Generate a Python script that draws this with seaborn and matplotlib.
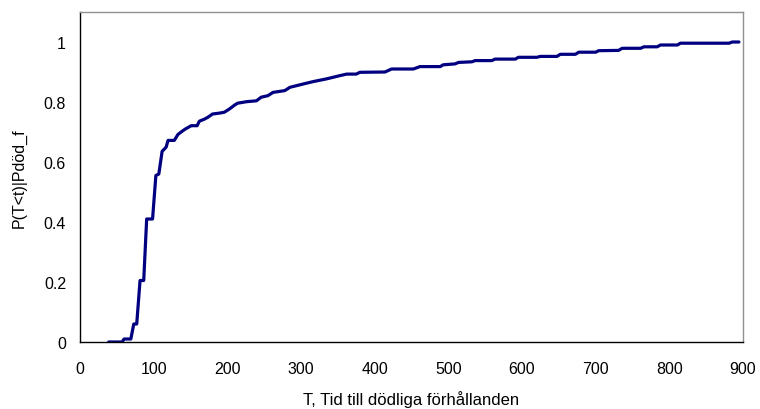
import matplotlib
matplotlib.use("Agg")
import matplotlib.pyplot as plt
import seaborn as sns
import pandas as pd
from matplotlib.ticker import FuncFormatter

# time to lethal conditions (x) and cumulative probability (y)
tid = [39, 57, 60, 69, 73, 77, 81.5, 86.5, 90.5, 98.5, 103, 107, 111.5, 114.5, 117, 119.5,
       128, 133, 139.5, 143, 151, 159, 162, 169, 173.5, 180, 189.5, 196, 203, 210, 214, 226,
       239.5, 246, 255, 262, 278, 285, 303, 316.5, 334.5, 353, 362, 375, 380, 414, 423, 452.5,
       461.5, 489, 493, 509, 514, 532, 536.5, 559, 563.5, 591, 595, 620, 625, 647.5, 652, 672.5,
       677, 700, 704, 731, 736, 761, 765.5, 783.5, 788, 811, 815, 881, 885.5, 894.5]
prob = [0, 0, 0.01, 0.01, 0.06, 0.06, 0.205, 0.205, 0.41, 0.41, 0.555, 0.56, 0.636, 0.643, 0.65, 0.672,
        0.672, 0.692, 0.704, 0.71, 0.721, 0.721, 0.736, 0.743, 0.749, 0.76, 0.763, 0.766, 0.777, 0.79, 0.796, 0.801,
        0.804, 0.816, 0.821, 0.832, 0.838, 0.849, 0.86, 0.868, 0.877, 0.888, 0.893, 0.893, 0.899, 0.9, 0.91, 0.91,
        0.918, 0.918, 0.924, 0.927, 0.932, 0.934, 0.938, 0.938, 0.943, 0.943, 0.949, 0.949, 0.952, 0.952, 0.959, 0.959,
        0.966, 0.966, 0.971, 0.972, 0.979, 0.979, 0.984, 0.984, 0.99, 0.99, 0.996, 0.996, 1.0, 1.0]

x_ticks = [0, 100, 200, 300, 400, 500, 600, 700, 800, 900]
y_ticks = [0, 0.2, 0.4, 0.6, 0.8, 1]

sns.set_style("white")
plt.rcParams["font.family"] = ["Liberation Sans", "DejaVu Sans"]

df = pd.DataFrame({"t": tid, "p": prob})

fig = plt.figure(figsize=(7.6, 4.1), dpi=100)
ax = fig.add_axes([80 / 760, 1 - 343 / 410, 663 / 760, 330 / 410])

sns.lineplot(data=df, x="t", y="p", ax=ax, sort=False, estimator=None,
             color="#000080", linewidth=2.3)

ax.set_xlim(0, 900)
ax.set_ylim(0, 1.1)
ax.set_xticks(x_ticks)
ax.set_yticks(y_ticks)
ax.yaxis.set_major_formatter(FuncFormatter(lambda v, pos: "%g" % v))

# excel look: black left/bottom axes, grey plot area border
for side in ["left", "bottom"]:
    ax.spines[side].set_color("black")
    ax.spines[side].set_linewidth(1.0)
for side in ["top", "right"]:
    ax.spines[side].set_color("#909090")
    ax.spines[side].set_linewidth(1.0)

ax.tick_params(axis="both", direction="out", length=5, width=1, color="black",
               labelsize=11.5, labelcolor="black", pad=5)
ax.tick_params(axis="x", pad=9)

ax.set_xlabel("T, Tid till dödliga förhållanden", fontsize=12, color="black", labelpad=10)
ax.set_ylabel("P(T<t)|Pdöd_f", fontsize=11.5, color="black", labelpad=12)

fig.savefig("out.png", dpi=100)
